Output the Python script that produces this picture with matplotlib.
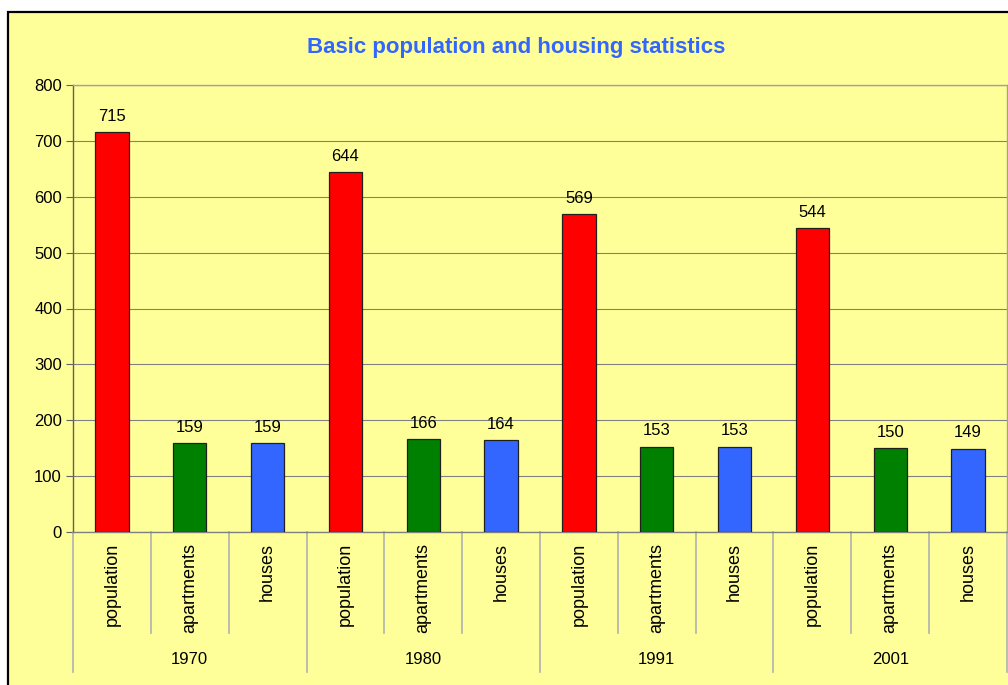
import matplotlib.pyplot as plt
from matplotlib.patches import Rectangle
from matplotlib.lines import Line2D
import matplotlib.transforms as mtransforms

years = ["1970", "1980", "1991", "2001"]
series = ["population", "apartments", "houses"]
population = [715, 644, 569, 544]
apartments = [159, 166, 153, 150]
houses = [159, 164, 153, 149]
colors = {"population": "#FF0000", "apartments": "#008000", "houses": "#3366FF"}

W, H = 1008, 685
YELLOW = "#FFFF99"

plt.rcParams["font.family"] = ["Liberation Sans", "DejaVu Sans"]

fig = plt.figure(figsize=(W / 100, H / 100), dpi=100)
fig.patch.set_facecolor("white")

# outer chart area (left and top edges visible, rest runs off the image)
fig.patches.append(
    Rectangle((8 / W, -20 / H), 1.2, (H - 12 + 20) / H, transform=fig.transFigure,
              facecolor=YELLOW, edgecolor="black", linewidth=1.6, zorder=-5)
)

left, right, top, bottom = 73, 1007, 85, 532
ax = fig.add_axes([left / W, (H - bottom) / H, (right - left) / W, (bottom - top) / H])
ax.set_facecolor(YELLOW)

values = {"population": population, "apartments": apartments, "houses": houses}
xs, hs, cs, cats = [], [], [], []
for i, yr in enumerate(years):
    for j, s in enumerate(series):
        xs.append(i * 3 + j)
        hs.append(values[s][i])
        cs.append(colors[s])
        cats.append(s)

ax.bar(xs, hs, width=0.43, color=cs, edgecolor="#202020", linewidth=0.9, zorder=3)
for x, h in zip(xs, hs):
    ax.annotate(str(h), (x, h), xytext=(0, 6), textcoords="offset points",
                ha="center", va="bottom", fontsize=12)

ax.set_xlim(-0.5, len(xs) - 0.5)
ax.set_ylim(0, 800)
ax.set_yticks(range(0, 801, 100))
ax.tick_params(axis="y", labelsize=12, length=5, color="#606060", pad=3)
ax.set_xticks([])
ax.grid(axis="y", color="#808080", linewidth=0.8, zorder=1)
for sp in ["top", "right", "bottom"]:
    ax.spines[sp].set_color("#a0a0a0")
    ax.spines[sp].set_linewidth(1.0)
ax.spines["left"].set_color("#606060")
ax.spines["left"].set_linewidth(1.0)
ax.spines["bottom"].set_color("#808080")

fig.text(516 / W, 1 - 47 / H, "Basic population and housing statistics",
         ha="center", va="center", fontsize=16, fontweight="bold", color="#3366FF")

# category labels and separators below the axis
trans = mtransforms.blended_transform_factory(ax.transData, fig.transFigure)
for x, c in zip(xs, cats):
    ax.text(x, 1 - 543 / H, c, rotation=90, ha="center", va="top",
            fontsize=13, transform=trans)
for k in range(len(xs) + 1):
    xb = k - 0.5
    y_end = 672 if k % 3 == 0 else 633
    ax.add_line(Line2D([xb, xb], [1 - 532 / H, 1 - y_end / H], transform=trans,
                       color="#b0b0b0", linewidth=1.2, clip_on=False))
for i, yr in enumerate(years):
    ax.text(i * 3 + 1, 1 - 660 / H, yr, ha="center", va="center",
            fontsize=12, transform=trans)

fig.savefig("out.png", dpi=100)
